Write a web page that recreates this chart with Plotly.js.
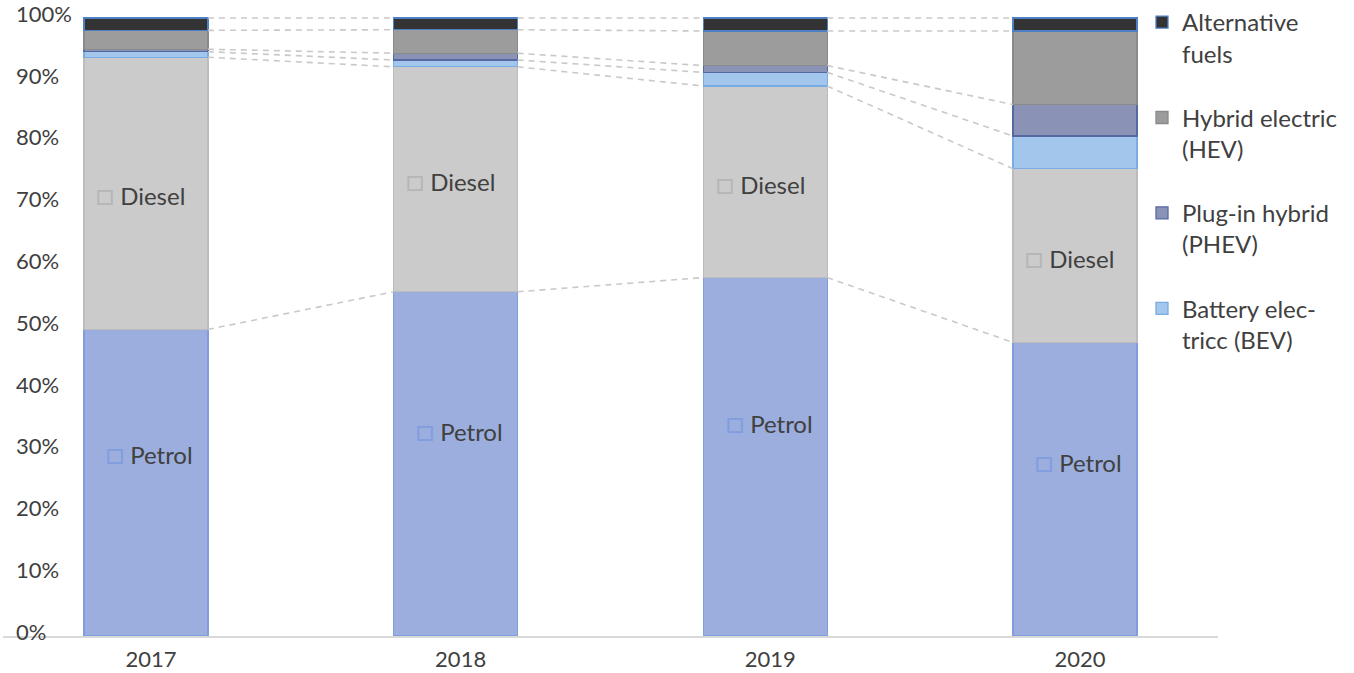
<!DOCTYPE html>
<html>
<head>
<meta charset="utf-8">
<script src="https://cdn.plot.ly/plotly-3.0.1.min.js"></script>
<style>
  html, body { margin: 0; padding: 0; background: #ffffff; }
  #chart { width: 1354px; height: 673px; }
</style>
</head>
<body>
<div id="chart"></div>
<script>
// ---- Data (shares of new registrations, %) ----
const years  = ['2017', '2018', '2019', '2020'];
const petrol = [49.6, 55.7, 58.0, 47.5];
const diesel = [44.05, 36.4, 31.0, 28.1];
const bev    = [0.9, 1.1, 2.2, 5.3];
const phev   = [0.4, 1.1, 1.1, 5.1];
const hev    = [3.05, 3.8, 5.6, 11.9];
const alt    = [2.0, 1.9, 2.1, 2.1];
const yTicks = [0, 10, 20, 30, 40, 50, 60, 70, 80, 90, 100];
const yTickText = ['0%', '10%', '20%', '30%', '40%', '50%', '60%', '70%', '80%', '90%', '100%'];

// ---- Styling ----
const FONT = 'Lato, "Open Sans", sans-serif';
const TXT = '#404040';
const BAR_W = 0.4;
const PX_PER_PCT = 6.18;   // plot area 650 px tall, value 0 at 636 px, value 100 at 18 px
const xs = years.map((_, i) => i);

const series = [
  { name: 'Petrol',                       vals: petrol, fill: '#9baede', line: '#7f9ddf', legend: false, rank: 6 },
  { name: 'Diesel',                       vals: diesel, fill: '#cbcbcb', line: '#bcbcbc', legend: false, rank: 5 },
  { name: 'Battery elec-<br>tricc (BEV)', vals: bev,    fill: '#a3c6ec', line: '#78ace3', legend: true,  rank: 4 },
  { name: 'Plug-in hybrid<br>(PHEV)',     vals: phev,   fill: '#8a93b6', line: '#5668a2', legend: true,  rank: 3 },
  { name: 'Hybrid electric<br>(HEV)',     vals: hev,    fill: '#9c9c9c', line: '#8a8a8a', legend: true,  rank: 2 },
  { name: 'Alternative<br>fuels',         vals: alt,    fill: '#333333', line: '#4f7fc4', legend: true,  rank: 1 }
];

const traces = [];
series.forEach((s, k) => {
  traces.push({
    type: 'bar',
    x: xs,
    y: s.vals,
    width: BAR_W,
    name: s.name,
    showlegend: s.legend,
    legendgroup: 'g' + k,
    legendrank: s.rank,
    marker: { color: s.fill, line: { color: s.line, width: 1.3 } },
    hoverinfo: 'skip'
  });
});

// cumulative tops of each stacked segment
const cum = [];
let run = years.map(() => 0);
series.forEach(s => {
  run = run.map((v, i) => v + s.vals[i]);
  cum.push(run.slice());
});

// dashed connector lines between neighbouring bars
cum.forEach(level => {
  const cx = [], cy = [];
  for (let i = 0; i < xs.length - 1; i++) {
    cx.push(xs[i] + BAR_W / 2, xs[i + 1] - BAR_W / 2, null);
    cy.push(level[i], level[i + 1], null);
  }
  traces.push({
    type: 'scatter', mode: 'lines', x: cx, y: cy,
    line: { color: '#c9c9c9', width: 1.6, dash: '6px,5px' },
    showlegend: false, hoverinfo: 'skip'
  });
});

// in-bar labels for Petrol and Diesel
const annotations = [];
xs.forEach((x, i) => {
  annotations.push({
    x: x, y: petrol[i] * 0.6, xref: 'x', yref: 'y',
    text: '<span style="color:#7f9ddf;font-size:30px">□</span> Petrol',
    showarrow: false, xanchor: 'center', yanchor: 'middle', xshift: 4,
    font: { family: FONT, size: 24, color: TXT }
  });
  annotations.push({
    x: x, y: petrol[i] + diesel[i] * 0.5, xref: 'x', yref: 'y',
    text: '<span style="color:#b5b5b5;font-size:30px">□</span> Diesel',
    showarrow: false, xanchor: 'center', yanchor: 'middle', xshift: -5,
    font: { family: FONT, size: 24, color: TXT }
  });
});

const layout = {
  width: 1354, height: 673,
  margin: { l: 3, r: 136, t: 0, b: 23, pad: 0, autoexpand: false },
  paper_bgcolor: '#ffffff', plot_bgcolor: '#ffffff',
  barmode: 'stack',
  hovermode: false,
  showlegend: true,
  font: { family: FONT, color: TXT },
  xaxis: {
    range: [-0.4617, 3.462],
    anchor: 'free', position: 14 / 650,
    tickvals: xs, ticktext: years,
    showline: true, linecolor: '#d9d9d9', linewidth: 1.5,
    showgrid: false, zeroline: false, ticks: '',
    ticklabelstandoff: 3,
    ticklabelshift: 5,
    tickfont: { family: FONT, size: 22, color: TXT },
    fixedrange: true
  },
  yaxis: {
    range: [-14 / PX_PER_PCT, 100 + 18 / PX_PER_PCT],
    tickvals: yTicks, ticktext: yTickText,
    ticklabelposition: 'inside',
    ticklabeloverflow: 'allow',
    ticklabelstandoff: 10,
    ticklabelshift: -4,
    showline: false, showgrid: false, zeroline: false, ticks: '',
    tickfont: { family: FONT, size: 22, color: TXT },
    fixedrange: true
  },
  legend: {
    x: 1142 / 1354, xanchor: 'left', xref: 'container',
    y: 1.0, yanchor: 'top', yref: 'container',
    traceorder: 'grouped',
    tracegroupgap: 30,
    valign: 'top',
    itemwidth: 30,
    maxheight: 673,
    bgcolor: 'rgba(0,0,0,0)',
    font: { family: FONT, size: 24, color: TXT }
  },
  annotations: annotations
};

Plotly.newPlot('chart', traces, layout, { displayModeBar: false, staticPlot: true });
</script>
</body>
</html>
